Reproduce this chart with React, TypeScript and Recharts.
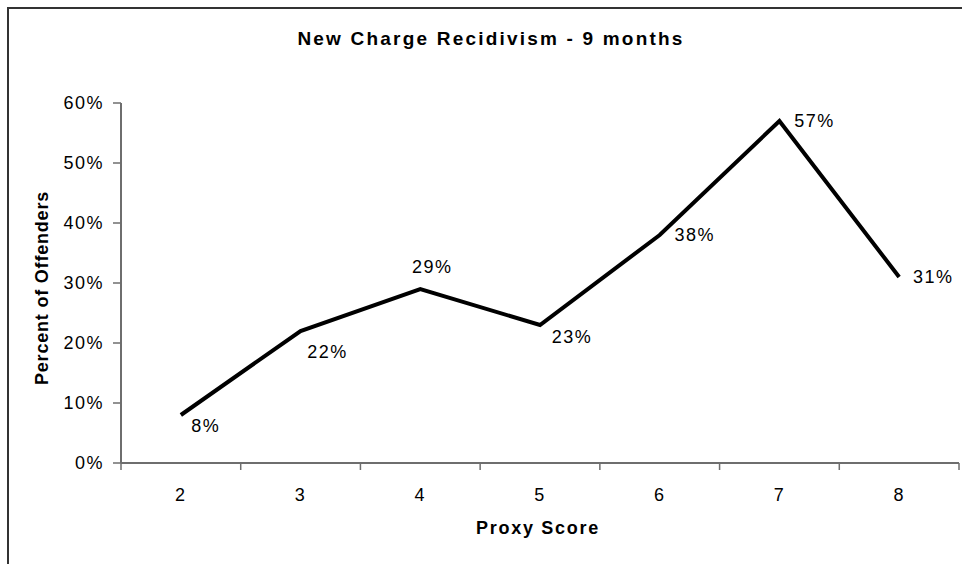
import { LineChart, Line, XAxis, YAxis, LabelList } from 'recharts'

const SCORES = [2, 3, 4, 5, 6, 7, 8]
const RECIDIVISM = [8, 22, 29, 23, 38, 57, 31]
const Y_TICKS = [0, 10, 20, 30, 40, 50, 60]

// where each value label sits relative to its point (dx, dy)
const LABEL_OFFSETS: Array<[number, number]> = [
  [25, 11],
  [27, 21],
  [12, -22],
  [32, 12],
  [35, 0],
  [35, 0],
  [34, 0]
]

const data = SCORES.map((score, i) => ({ score, pct: RECIDIVISM[i] }))
const BOUNDARIES = [...SCORES.map((s) => s - 0.5), SCORES[SCORES.length - 1] + 0.5]
const X_DOMAIN: [number, number] = [BOUNDARIES[0], BOUNDARIES[BOUNDARIES.length - 1]]

const FONT = "'Liberation Sans', Arial, sans-serif"
const AXIS = '#6e6e6e'
const tickStyle = { fill: '#000', fontSize: 18, fontFamily: FONT, letterSpacing: 1.5 }

const ValueLabel = (props: any) => {
  const { x, y, value, index } = props
  const [dx, dy] = LABEL_OFFSETS[index] || [30, 0]
  return (
    <text
      x={x + dx}
      y={y + dy}
      textAnchor="middle"
      dominantBaseline="central"
      fill="#000"
      fontSize={18}
      fontFamily={FONT}
      letterSpacing={1.5}
    >
      {`${value}%`}
    </text>
  )
}

export default function App() {
  return (
    <div style={{ position: 'absolute', left: 0, top: 0, width: 962, height: 564, overflow: 'hidden', background: '#fff' }}>
      <div
        style={{
          position: 'absolute',
          left: 7,
          top: 7,
          width: 1000,
          height: 600,
          borderLeft: '2px solid #333',
          borderTop: '2px solid #333'
        }}
      />
      <div style={{ position: 'absolute', left: 0, top: 0 }}>
        <LineChart width={962} height={564} data={data} margin={{ top: 103, right: 3, bottom: 41, left: 61 }}>
          <XAxis
            xAxisId="a"
            type="number"
            dataKey="score"
            domain={X_DOMAIN}
            ticks={BOUNDARIES}
            interval={0}
            tickFormatter={() => ''}
            tickSize={7}
            tickMargin={0}
            height={8}
            axisLine={{ stroke: AXIS, strokeWidth: 2 }}
            tickLine={{ stroke: AXIS, strokeWidth: 1.5 }}
            allowDataOverflow
          />
          <XAxis
            xAxisId="b"
            type="number"
            dataKey="score"
            domain={X_DOMAIN}
            ticks={SCORES}
            interval={0}
            tickSize={0}
            tickMargin={17}
            height={52}
            axisLine={false}
            tickLine={false}
            tick={tickStyle}
            allowDataOverflow
          />
          <YAxis
            type="number"
            domain={[0, 60]}
            ticks={Y_TICKS}
            interval={0}
            width={60}
            tickSize={8}
            tickMargin={9}
            tickFormatter={(v: number) => `${v}%`}
            axisLine={{ stroke: AXIS, strokeWidth: 2 }}
            tickLine={{ stroke: AXIS, strokeWidth: 1.5 }}
            tick={tickStyle}
          />
          <Line
            xAxisId="a"
            type="linear"
            dataKey="pct"
            stroke="#000"
            strokeWidth={4}
            strokeLinejoin="miter"
            dot={false}
            activeDot={false}
            isAnimationActive={false}
          >
            <LabelList dataKey="pct" content={ValueLabel} />
          </Line>
        </LineChart>
      </div>
      <svg width={962} height={564} style={{ position: 'absolute', left: 0, top: 0, pointerEvents: 'none' }}>
        <text
          x={491}
          y={38}
          textAnchor="middle"
          dominantBaseline="central"
          fontFamily={FONT}
          fontWeight="bold"
          fontSize={19}
          letterSpacing={2.2}
        >
          New Charge Recidivism - 9 months
        </text>
        <text
          x={42}
          y={288}
          transform="rotate(-90 42 288)"
          textAnchor="middle"
          dominantBaseline="central"
          fontFamily={FONT}
          fontWeight="bold"
          fontSize={18}
          letterSpacing={0.8}
        >
          Percent of Offenders
        </text>
        <text
          x={538}
          y={528}
          textAnchor="middle"
          dominantBaseline="central"
          fontFamily={FONT}
          fontWeight="bold"
          fontSize={18}
          letterSpacing={1.7}
        >
          Proxy Score
        </text>
      </svg>
    </div>
  )
}
